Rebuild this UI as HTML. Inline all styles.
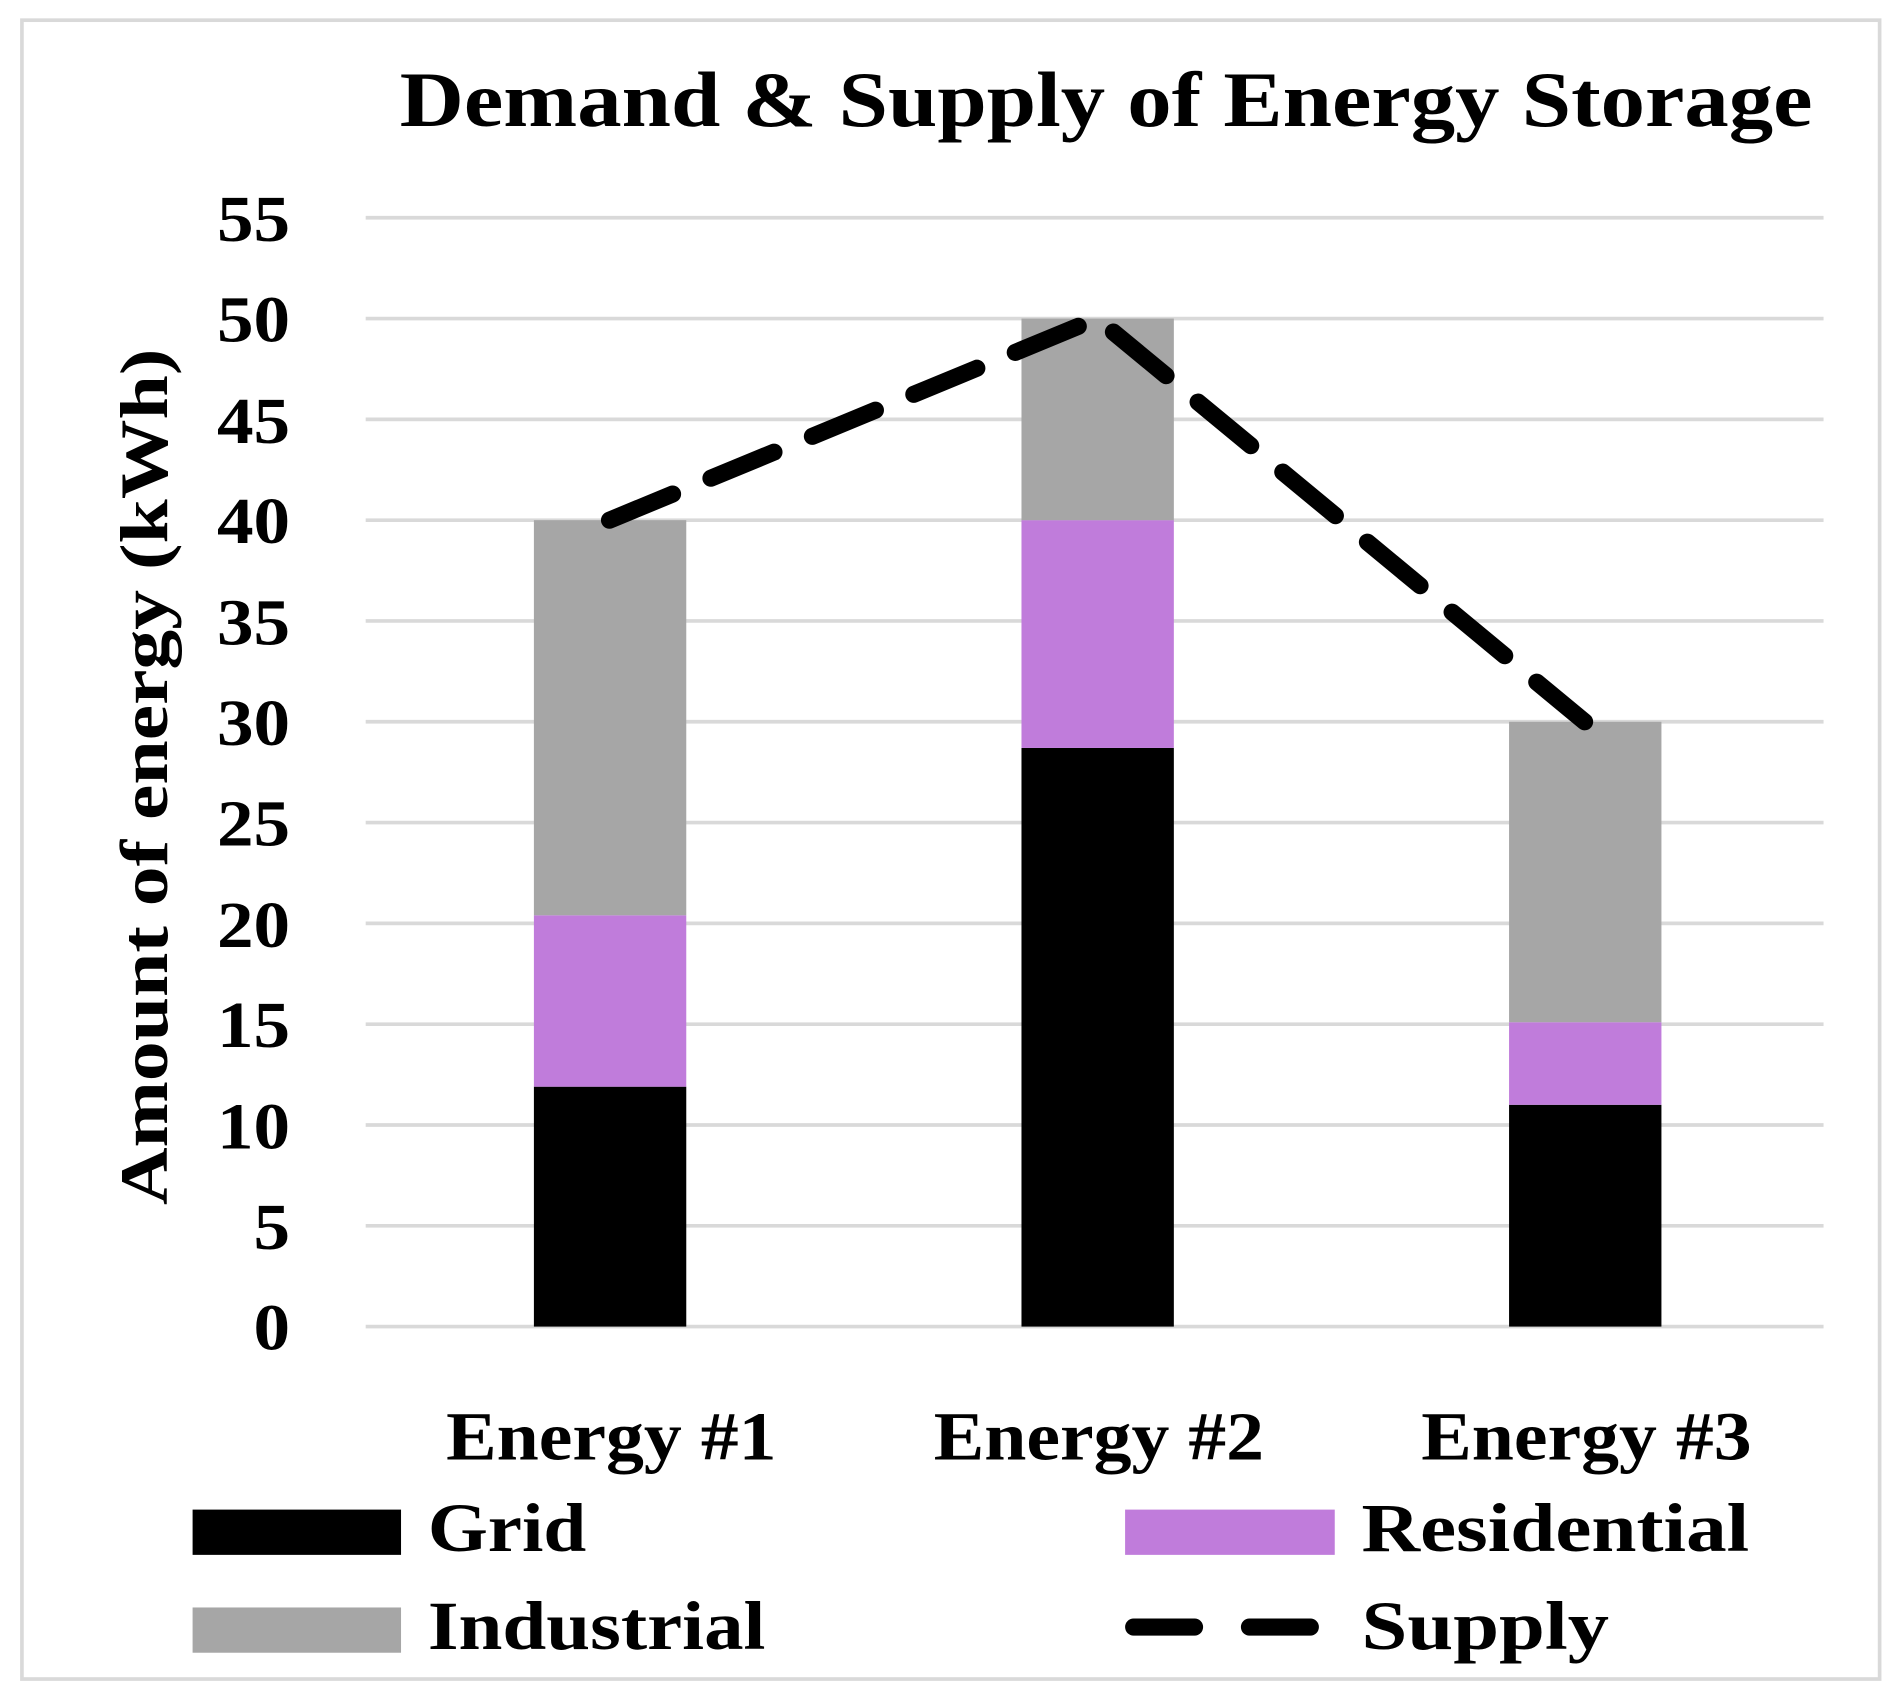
<!DOCTYPE html>
<html><head><meta charset="utf-8"><style>
html,body{margin:0;padding:0;background:#fff;}
svg{display:block;}
text{font-family:"Liberation Serif",serif;font-weight:bold;fill:#000;}
</style></head><body>
<svg width="1904" height="1698" viewBox="0 0 1562 1388" preserveAspectRatio="none">
<rect x="18" y="16.5" width="1524" height="1356" fill="#fff" stroke="#d9d9d9" stroke-width="3"/>
<text x="328" y="103" font-size="64" textLength="1159" lengthAdjust="spacingAndGlyphs">Demand &amp; Supply of Energy Storage</text>
<g stroke="#d9d9d9" stroke-width="3">
<line x1="300" x2="1496" y1="178" y2="178"/>
<line x1="300" x2="1496" y1="260.4" y2="260.4"/>
<line x1="300" x2="1496" y1="342.8" y2="342.8"/>
<line x1="300" x2="1496" y1="425.2" y2="425.2"/>
<line x1="300" x2="1496" y1="507.6" y2="507.6"/>
<line x1="300" x2="1496" y1="590" y2="590"/>
<line x1="300" x2="1496" y1="672.4" y2="672.4"/>
<line x1="300" x2="1496" y1="754.8" y2="754.8"/>
<line x1="300" x2="1496" y1="837.2" y2="837.2"/>
<line x1="300" x2="1496" y1="919.6" y2="919.6"/>
<line x1="300" x2="1496" y1="1002" y2="1002"/>
<line x1="300" x2="1496" y1="1084.4" y2="1084.4"/>
</g>
<g font-size="54">
<text x="178" y="197" textLength="60" lengthAdjust="spacingAndGlyphs">55</text>
<text x="178" y="279" textLength="60" lengthAdjust="spacingAndGlyphs">50</text>
<text x="178" y="362" textLength="60" lengthAdjust="spacingAndGlyphs">45</text>
<text x="178" y="444" textLength="60" lengthAdjust="spacingAndGlyphs">40</text>
<text x="178" y="527" textLength="60" lengthAdjust="spacingAndGlyphs">35</text>
<text x="178" y="609" textLength="60" lengthAdjust="spacingAndGlyphs">30</text>
<text x="178" y="691" textLength="60" lengthAdjust="spacingAndGlyphs">25</text>
<text x="178" y="774" textLength="60" lengthAdjust="spacingAndGlyphs">20</text>
<text x="178" y="856" textLength="60" lengthAdjust="spacingAndGlyphs">15</text>
<text x="178" y="939" textLength="60" lengthAdjust="spacingAndGlyphs">10</text>
<text x="208" y="1021" textLength="30" lengthAdjust="spacingAndGlyphs">5</text>
<text x="208" y="1103" textLength="30" lengthAdjust="spacingAndGlyphs">0</text>
</g>
<text transform="translate(137,985) rotate(-90)" font-size="56" textLength="700" lengthAdjust="spacingAndGlyphs">Amount of energy (kWh)</text>
<rect x="438" y="888.3" width="125" height="196.1" fill="#000"/>
<rect x="438" y="748.2" width="125" height="140.1" fill="#c07cdb"/>
<rect x="438" y="425.2" width="125" height="323" fill="#a6a6a6"/>
<rect x="838" y="611.4" width="125" height="473" fill="#000"/>
<rect x="838" y="425.2" width="125" height="186.2" fill="#c07cdb"/>
<rect x="838" y="260.4" width="125" height="164.8" fill="#a6a6a6"/>
<rect x="1238" y="903.1" width="125" height="181.3" fill="#000"/>
<rect x="1238" y="835.6" width="125" height="67.5" fill="#c07cdb"/>
<rect x="1238" y="590" width="125" height="245.6" fill="#a6a6a6"/>
<polyline points="500,425.2 900,260.4 1300,590" fill="none" stroke="#000" stroke-width="14" stroke-dasharray="56,34" stroke-linecap="round" stroke-linejoin="round"/>
<g font-size="56">
<text x="366" y="1193" textLength="271" lengthAdjust="spacingAndGlyphs">Energy #1</text>
<text x="766" y="1193" textLength="271" lengthAdjust="spacingAndGlyphs">Energy #2</text>
<text x="1166" y="1193" textLength="271" lengthAdjust="spacingAndGlyphs">Energy #3</text>
</g>
<g font-size="56">
<rect x="158" y="1234" width="171" height="37" fill="#000"/>
<text x="351" y="1268" textLength="130" lengthAdjust="spacingAndGlyphs">Grid</text>
<rect x="923" y="1234" width="172" height="37" fill="#c07cdb"/>
<text x="1117" y="1268" textLength="318" lengthAdjust="spacingAndGlyphs">Residential</text>
<rect x="158" y="1314" width="171" height="37" fill="#a6a6a6"/>
<text x="351" y="1348" textLength="277" lengthAdjust="spacingAndGlyphs">Industrial</text>
<line x1="930" y1="1330" x2="1075" y2="1330" stroke="#000" stroke-width="14" stroke-dasharray="50,45" stroke-linecap="round"/>
<text x="1117" y="1348" textLength="203" lengthAdjust="spacingAndGlyphs">Supply</text>
</g>
</svg>
</body></html>
